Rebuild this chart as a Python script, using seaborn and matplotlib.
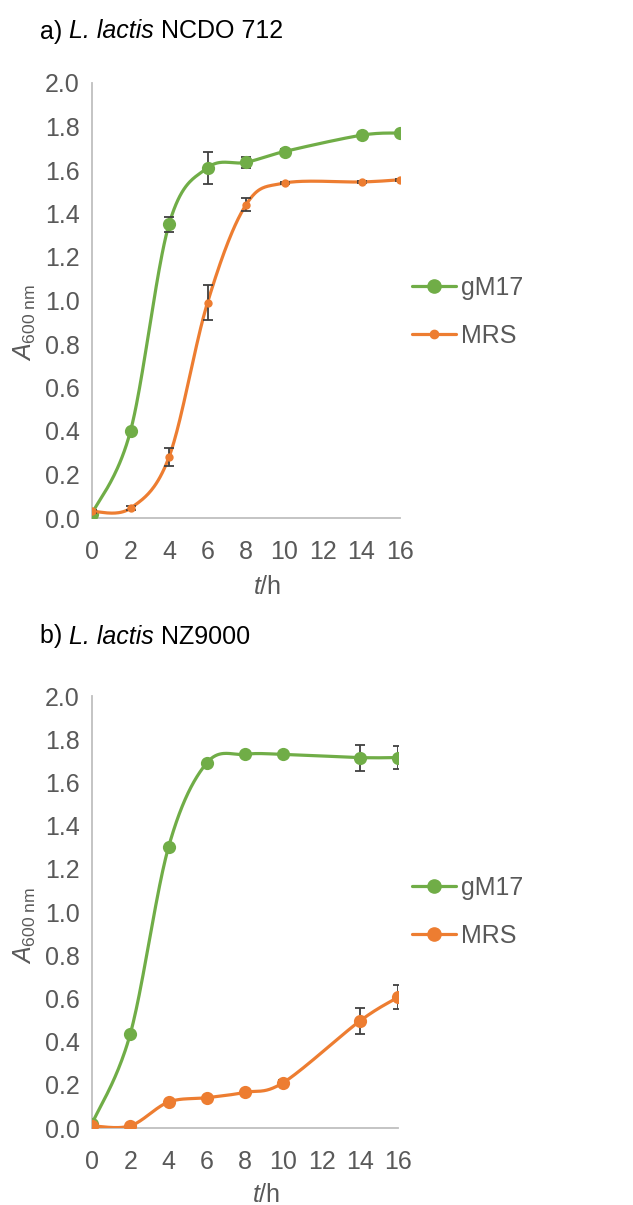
import numpy as np
import pandas as pd
import matplotlib
matplotlib.use("Agg")
import matplotlib.pyplot as plt
import seaborn as sns
from matplotlib.lines import Line2D
from matplotlib.transforms import offset_copy

# ---------------- data ----------------
time_h = [0, 2, 4, 6, 8, 10, 14, 16]

a_gm17 = [0.02, 0.40, 1.35, 1.61, 1.635, 1.685, 1.76, 1.77]
a_gm17_err = [0.005, 0.01, 0.035, 0.075, 0.025, 0.01, 0.01, 0.01]
a_mrs = [0.03, 0.045, 0.28, 0.99, 1.44, 1.54, 1.545, 1.555]
a_mrs_err = [0.005, 0.01, 0.04, 0.08, 0.03, 0.005, 0.005, 0.005]

b_gm17 = [0.02, 0.435, 1.30, 1.69, 1.73, 1.73, 1.715, 1.715]
b_gm17_err = [0.005, 0.01, 0.01, 0.01, 0.01, 0.01, 0.06, 0.055]
b_mrs = [0.01, 0.01, 0.12, 0.14, 0.165, 0.21, 0.495, 0.605]
b_mrs_err = [0.005, 0.01, 0.01, 0.01, 0.01, 0.01, 0.06, 0.055]

media = ["gM17", "MRS"]
x_ticks = [0, 2, 4, 6, 8, 10, 12, 14, 16]
y_ticks = [0.0, 0.2, 0.4, 0.6, 0.8, 1.0, 1.2, 1.4, 1.6, 1.8, 2.0]
titles = [("a) ", "L. lactis", " NCDO 712"), ("b) ", "L. lactis", " NZ9000")]

GREEN = "#70AD47"
ORANGE = "#ED7D31"
GRAY = "#595959"
AXC = "#BFBFBF"

sns.set_theme(style="white")
plt.rcParams["font.family"] = ["Liberation Sans", "DejaVu Sans"]
plt.rcParams["mathtext.fontset"] = "custom"
plt.rcParams["mathtext.rm"] = "Liberation Sans"
plt.rcParams["mathtext.it"] = "Liberation Sans:italic"
plt.rcParams["mathtext.bf"] = "Liberation Sans:bold"

FS = 18


def smooth(x, y, n=40):
    pts = np.column_stack([x, y]).astype(float)
    out = []
    for i in range(len(pts) - 1):
        p0 = pts[i - 1] if i > 0 else pts[i]
        p1 = pts[i]
        p2 = pts[i + 1]
        p3 = pts[i + 2] if i + 2 < len(pts) else pts[i + 1]
        c1 = p1 + (p2 - p0) / 6.0
        c2 = p2 - (p3 - p1) / 6.0
        t = np.linspace(0, 1, n)[:, None]
        seg = (1 - t) ** 3 * p1 + 3 * (1 - t) ** 2 * t * c1 + 3 * (1 - t) * t ** 2 * c2 + t ** 3 * p2
        out.append(seg if i == 0 else seg[1:])
    return np.vstack(out)


fig = plt.figure(figsize=(6.33, 12.05), dpi=100)
W, H = 633, 1205


def axes_px(left, top, right, bottom):
    return fig.add_axes([left / W, 1 - bottom / H, (right - left) / W, (bottom - top) / H])


ax_a = axes_px(92, 83, 400, 518)
ax_b = axes_px(92, 696, 398, 1128)

panels = [
    (ax_a, a_gm17, a_gm17_err, a_mrs, a_mrs_err, 9.5, 6.0, 287, -0.131, 0.45),
    (ax_b, b_gm17, b_gm17_err, b_mrs, b_mrs_err, 9.5, 9.5, 887, -0.128, 0.47),
]

for ax, g, ge, m, me, gs, ms, leg_y, xl_y, yl_y in panels:
    df = pd.DataFrame({
        "t": time_h * 2,
        "A": g + m,
        "err": ge + me,
        "medium": ["gM17"] * len(time_h) + ["MRS"] * len(time_h),
    })
    for med, col, msz, z in [("gM17", GREEN, gs, 3), ("MRS", ORANGE, ms, 4)]:
        sub = df[df["medium"] == med]
        curve = smooth(sub["t"].values, sub["A"].values)
        ax.plot(curve[:, 0], curve[:, 1], color=col, lw=2.3, zorder=z,
                solid_capstyle="round")
        ax.errorbar(sub["t"], sub["A"], yerr=sub["err"], fmt="none",
                    ecolor="#404040", elinewidth=1.3, capsize=3.5, capthick=1.3,
                    zorder=z + 0.1)
        sns.scatterplot(x=sub["t"], y=sub["A"], ax=ax, color=col, s=msz ** 2,
                        edgecolor=col, linewidth=0, zorder=z + 0.2, legend=False)

    ax.set_xlim(0, 16)
    ax.set_ylim(0, 2.0)
    ax.set_xticks(x_ticks)
    ax.set_yticks(y_ticks)
    ax.set_yticklabels([f"{v:.1f}" for v in y_ticks])
    ax.tick_params(axis="both", labelsize=FS, colors=GRAY, length=5, width=1.2,
                   color=AXC, direction="out", pad=4)
    ax.tick_params(axis="x", pad=11)
    for s in ["top", "right"]:
        ax.spines[s].set_visible(False)
    for s in ["left", "bottom"]:
        ax.spines[s].set_color(AXC)
        ax.spines[s].set_linewidth(1.3)
    ax.set_xlabel(r"$\mathit{t}$/h", fontsize=FS, color=GRAY)
    ax.set_ylabel(r"$\mathit{A}_{\mathrm{600\ nm}}$", fontsize=FS, color=GRAY)
    ax.yaxis.set_label_coords(-0.176, yl_y)
    ax.xaxis.set_label_coords(0.57, xl_y)
    ax.set_facecolor("white")

    handles = [
        Line2D([], [], color=GREEN, lw=2.3, marker="o", markersize=gs),
        Line2D([], [], color=ORANGE, lw=2.3, marker="o", markersize=ms),
    ]
    leg = fig.legend(handles, media, loc="upper left",
                     bbox_to_anchor=(412 / W, 1 - (leg_y - 11) / H),
                     frameon=False, fontsize=FS, handlelength=1.75,
                     handletextpad=0.2, labelspacing=0.95, borderaxespad=0,
                     borderpad=0)
    for t in leg.get_texts():
        t.set_color(GRAY)

# titles built from pieces (regular / italic / regular)
renderer = fig.canvas.get_renderer()
for (p1, p2, p3), ycen in zip(titles, [29, 634]):
    x = 40.0
    for piece, style in [(p1, "normal"), (p2, "italic"), (p3, "normal")]:
        txt = fig.text(x / W, 1 - ycen / H, piece, fontsize=FS, fontstyle=style,
                       va="center_baseline", ha="left", color="black")
        bb = txt.get_window_extent(renderer=renderer)
        x += bb.width

fig.savefig("out.png", dpi=100, facecolor="white")
